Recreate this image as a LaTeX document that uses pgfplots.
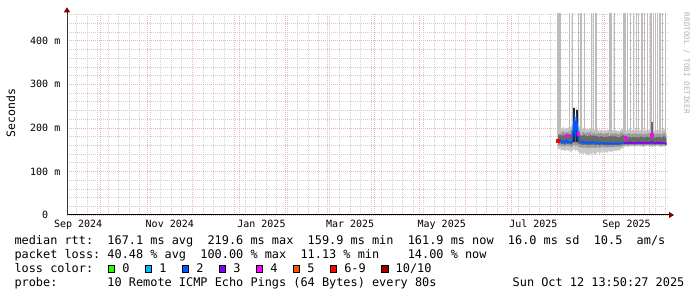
\documentclass[border=0pt]{standalone}
\usepackage{fontspec}
\setmonofont{DejaVu Sans Mono}
\usepackage{pgfplots}
\usepackage{pgfplotstable}
\pgfplotsset{compat=1.18}
\usepgfplotslibrary{fillbetween}
\usetikzlibrary{arrows.meta}

\definecolor{gridminor}{RGB}{208,208,208}
\definecolor{gridmajor}{RGB}{238,180,180}
\definecolor{arrowred}{RGB}{128,0,0}
\definecolor{smokeA}{RGB}{200,200,200}
\definecolor{smokeB}{RGB}{155,155,155}
\definecolor{smokeC}{RGB}{105,105,105}
\definecolor{spike}{RGB}{188,188,188}
\definecolor{loss0}{HTML}{26FF00}
\definecolor{loss1}{HTML}{00B8FF}
\definecolor{loss2}{HTML}{0059FF}
\definecolor{loss3}{HTML}{7E00FF}
\definecolor{loss4}{HTML}{FF00FF}
\definecolor{loss5}{HTML}{FF5500}
\definecolor{loss69}{HTML}{FF0000}
\definecolor{loss10}{HTML}{A10000}

\newcommand\lf{\fontsize{11.88}{14}\selectfont\ttfamily}

% x = days since 1 Sep 2024, y = ms
\pgfplotstableread{
x lo1 lo2 lo3 med hi3 hi2 hi1
334.3 156 161 165 171 186 193 202
335 150 159 164 169 182 190 198
336 152 160 165 172 184 192 199
337 148 158 163 166 181 189 197
338 150 159 164 170 185 193 203
339 146 157 162 165 180 188 196
340 151 160 164 171 183 191 200
341 147 158 163 166 182 190 198
342 149 159 164 169 186 195 205
343 144 156 162 165 183 192 201
344 148 158 164 172 196 205 212
344.6 150 160 168 205 232 240 246
345.3 152 162 170 219 240 246 250
346 146 158 165 178 200 210 218
346.7 150 160 168 216 235 242 248
347.4 148 160 166 200 226 236 242
348 145 157 163 175 192 200 210
349 140 155 162 168 183 191 200
350 143 156 162 166 181 189 197
351 139 154 161 169 182 190 199
352 144 156 162 165 185 193 202
353 138 154 161 168 180 188 196
354 141 155 162 164 182 190 198
355 136 153 160 167 181 189 197
356 142 156 162 164 184 192 200
357 139 154 161 168 180 188 197
358 144 156 162 165 183 191 199
359 137 153 160 167 181 189 196
360 142 155 161 164 182 190 198
361 146 156 162 167 180 188 195
362 140 154 160 163 179 187 194
363 144 155 161 166 181 189 196
364 147 157 162 164 180 187 194
365 143 155 160 166 178 186 193
366 146 156 161 163 180 188 195
367 142 154 160 165 179 187 194
368 148 157 161 163 181 189 196
369 144 155 160 166 180 188 195
370 147 156 161 163 182 190 197
371 145 155 160 165 179 187 194
372 149 157 162 163 181 189 196
373 146 156 161 166 180 188 195
374 150 157 161 163 179 186 193
375 147 156 160 165 178 186 193
376 151 157 161 164 180 188 195
377 153 158 162 166 182 190 197
378 155 159 162 165 184 192 200
379 157 160 162 165 178 187 195
380 158 160 163 166 177 185 193
381 156 159 162 164 179 188 196
382 158 160 163 167 180 188 197
383 157 160 162 165 177 185 194
384 159 161 163 166 179 187 195
385 156 159 162 164 178 186 193
386 158 160 163 166 180 189 197
387 157 160 162 165 177 186 194
388 159 161 163 167 179 187 196
389 157 160 162 165 178 186 194
390 158 160 163 166 181 189 197
391 156 159 162 164 177 185 193
392 158 160 163 166 179 187 195
393 157 160 162 165 178 186 194
394 159 161 163 166 180 188 196
395 157 160 162 165 178 187 195
396 158 160 163 166 179 188 197
397 156 159 162 168 183 192 203
398 158 160 163 165 178 186 194
399 157 160 162 164 177 185 193
400 159 161 163 166 179 187 195
401 157 160 162 165 178 186 194
402 158 160 163 166 180 188 196
403 156 159 162 164 177 185 193
404 158 160 163 166 179 187 195
405 157 160 162 165 181 190 199
406 158 160 162 164 178 186 194
406.5 158 160 162 162 177 185 193
}\smoke

\begin{document}
\begin{tikzpicture}
\path (0pt,0pt) rectangle (697pt,297pt);
\begin{axis}[
  at={(67pt,82pt)}, anchor=south west,
  scale only axis, width=601pt, height=201.7pt,
  xmin=7.57, xmax=407.6, ymin=0, ymax=463,
  axis x line*=bottom, axis y line*=left,
  x axis line style={line width=1pt, black, -{Triangle[width=6pt,length=5pt,color=arrowred]}, shorten >=-6pt},
  y axis line style={line width=1pt, black!80, -{Triangle[width=6pt,length=5pt,color=arrowred]}, shorten >=-6pt},
  xtick={15,76,137,196,257,318,380},
  xticklabels={Sep 2024,Nov 2024,Jan 2025,Mar 2025,May 2025,Jul 2025,Sep 2025},
  xmajorgrids=false,
  extra x ticks={30,61,91,122,153,181,212,242,273,303,334,365,395},
  extra x tick labels={},
  extra x tick style={grid=major, major tick length=0pt,
     major grid style={gridmajor, dash pattern=on 1pt off 1pt, line width=0.7pt}},
  minor xtick={14,21,...,406},
  xminorgrids=true,
  ytick={0,100,200,300,400},
  yticklabels={0\phantom{~m},100~m,200~m,300~m,400~m},
  minor ytick={20,40,...,460},
  ymajorgrids=true, yminorgrids=true,
  major grid style={gridmajor, dash pattern=on 1pt off 1pt, line width=0.7pt},
  minor grid style={gridminor, dash pattern=on 1pt off 1pt, line width=0.7pt},
  major tick length=0pt, minor tick length=0pt,
  ticklabel style={font=\fontsize{10}{12}\selectfont\ttfamily, inner sep=0pt},
  xticklabel style={anchor=base, yshift=-12.3pt},
  yticklabel style={anchor=east, xshift=-6.5pt},
]
% spikes (max rtt to top of graph)
\addplot[spike, line width=1.1pt, unbounded coords=jump] coordinates {
 (334.4,185)(334.4,480)(334.4,nan)
 (335.7,185)(335.7,480)(335.7,nan)
 (342.3,185)(342.3,480)(342.3,nan)
 (343.9,185)(343.9,480)(343.9,nan)
 (347.9,185)(347.9,480)(347.9,nan)
 (349.7,185)(349.7,480)(349.7,nan)
 (351.9,185)(351.9,480)(351.9,nan)
 (356.9,185)(356.9,480)(356.9,nan)
 (357.9,185)(357.9,480)(357.9,nan)
 (359.7,185)(359.7,480)(359.7,nan)
 (368.6,182)(368.6,224)(368.6,nan)
 (369.0,185)(369.0,480)(369.0,nan)
 (370.2,185)(370.2,480)(370.2,nan)
 (371.7,185)(371.7,480)(371.7,nan)
 (377.9,185)(377.9,480)(377.9,nan)
 (379.0,185)(379.0,480)(379.0,nan)
 (380.4,185)(380.4,480)(380.4,nan)
 (382.4,185)(382.4,480)(382.4,nan)
 (384.4,185)(384.4,480)(384.4,nan)
 (386.4,185)(386.4,480)(386.4,nan)
 (387.9,185)(387.9,480)(387.9,nan)
 (389.7,185)(389.7,480)(389.7,nan)
 (390.7,185)(390.7,480)(390.7,nan)
 (392.0,185)(392.0,480)(392.0,nan)
 (393.7,185)(393.7,480)(393.7,nan)
 (395.7,185)(395.7,480)(395.7,nan)
 (396.8,185)(396.8,480)(396.8,nan)
 (397.9,185)(397.9,480)(397.9,nan)
 (399.0,185)(399.0,480)(399.0,nan)
 (400.5,185)(400.5,480)(400.5,nan)
 (402.3,185)(402.3,480)(402.3,nan)
 (403.9,185)(403.9,480)(403.9,nan)
 (405.7,185)(405.7,480)
};
% smoke layers
\addplot[draw=none, name path=lo1] table[x=x,y=lo1]{\smoke};
\addplot[draw=none, name path=hi1] table[x=x,y=hi1]{\smoke};
\addplot[draw=none, name path=lo2] table[x=x,y=lo2]{\smoke};
\addplot[draw=none, name path=hi2] table[x=x,y=hi2]{\smoke};
\addplot[draw=none, name path=lo3] table[x=x,y=lo3]{\smoke};
\addplot[draw=none, name path=hi3] table[x=x,y=hi3]{\smoke};
\addplot[fill=smokeA, draw=none] fill between[of=hi1 and lo1];
\addplot[fill=smokeB, draw=none] fill between[of=hi2 and lo2];
\addplot[fill=smokeC, draw=none] fill between[of=hi3 and lo3];
% dark smoke during the rtt jump
\addplot[black!85, line width=2.2pt, unbounded coords=jump] coordinates {
 (344.9,168)(344.9,246)(344.9,nan)(346.9,168)(346.9,241)};
\addplot[smokeC, line width=1.2pt] coordinates {(396.9,180)(396.9,214)};
% median rtt coloured by loss
\addplot[loss2, line width=1.5pt, restrict x to domain=334:378] table[x=x,y=med]{\smoke};
\addplot[loss3, line width=1.5pt, restrict x to domain=377.9:407] table[x=x,y=med]{\smoke};
\addplot[only marks, mark=square*, mark size=1.2pt, color=loss4] coordinates {
 (340.2,183)(347.9,187)(379.0,177)(396.8,184)};
\addplot[only marks, mark=square*, mark size=1.2pt, color=loss69] coordinates {(334.3,171)};
\end{axis}

\node[rotate=90, font=\fontsize{11.5}{13}\selectfont\ttfamily, inner sep=0pt] at (10.8pt,183.7pt) {Seconds};
\node[rotate=-90, font=\fontsize{7.6}{9}\selectfont\ttfamily, text=black!30, inner sep=0pt] at (686.7pt,233.7pt) {RRDTOOL / TOBI OETIKER};

\node[anchor=base west, inner sep=0pt, font=\lf] at (14.3pt,52pt)
 {median~rtt:~~167.1~ms~avg~~219.6~ms~max~~159.9~ms~min~~161.9~ms~now~~16.0~ms~sd~~10.5~~am/s};
\node[anchor=base west, inner sep=0pt, font=\lf] at (14.3pt,38pt)
 {packet~loss:~40.48~\%~avg~~100.00~\%~max~~11.13~\%~min~~~~14.00~\%~now};
\node[anchor=base west, inner sep=0pt, font=\lf] at (14.3pt,24.3pt) {loss~color:};
\foreach \bx/\c/\t in {108.3/loss0/0, 145.3/loss1/1, 182.3/loss2/2, 219.3/loss3/3, 256.3/loss4/4, 293.3/loss5/5, 330.3/loss69/6-9}{
  \filldraw[fill=\c, draw=black, line width=0.7pt] (\bx pt,24.8pt) rectangle ++(6.4pt,7pt);
  \node[anchor=base west, inner sep=0pt, font=\lf] at (\bx pt+13.8pt,24.3pt) {\t};
}
\filldraw[fill=loss10, draw=black, line width=0.7pt] (381.7pt,24.8pt) rectangle ++(6.4pt,7pt);
\node[anchor=base west, inner sep=0pt, font=\lf] at (395.5pt,24.3pt) {10/10};
\node[anchor=base west, inner sep=0pt, font=\lf] at (14.3pt,10.3pt)
 {probe:~~~~~~~10~Remote~ICMP~Echo~Pings~(64~Bytes)~every~80s};
\node[anchor=base west, inner sep=0pt, font=\lf] at (512.5pt,10.3pt) {Sun~Oct~12~13:50:27~2025};
\pgfresetboundingbox
\path[use as bounding box] (0pt,0pt) rectangle (697pt,297pt);
\end{tikzpicture}
\end{document}
